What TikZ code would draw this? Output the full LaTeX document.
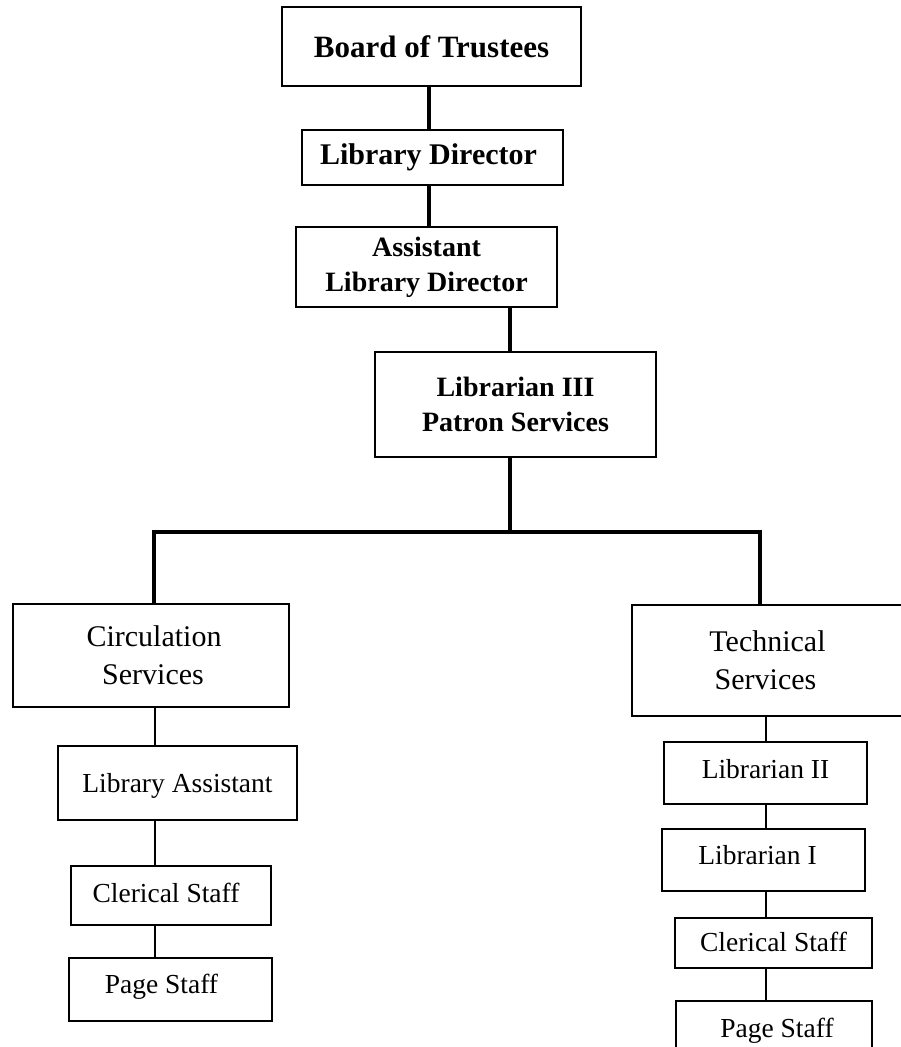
\documentclass[tikz,border=0pt]{standalone}
\usepackage{fontspec}
\setmainfont{Liberation Serif}
\begin{document}
\begin{tikzpicture}[x=1pt,y=-1pt,
  topbox/.style={draw=black,line width=2.5pt,inner sep=0pt,align=center,font=\bfseries},
  midbox/.style={draw=black,line width=2.5pt,inner sep=0pt,align=center},
  lowbox/.style={draw=black,line width=2pt,inner sep=0pt,text height=19pt,text depth=6pt,font=\fontsize{27.5}{33}\selectfont},
  thick/.style={line width=4.5pt},
  thin/.style={line width=1.5pt}]
\useasboundingbox (0,0) rectangle (901,1047);
% upper boxes
\node[topbox,minimum width=299pt,minimum height=79pt,font=\fontsize{31}{36}\selectfont\bfseries] (board) at (431.5,46.5) {Board of Trustees};
\node[topbox,minimum width=261pt,minimum height=55pt,font=\fontsize{30}{35}\selectfont\bfseries] (ld) at (432.5,157.5) {Library Director\hspace*{8pt}};
\node[topbox,minimum width=261pt,minimum height=80pt,font=\fontsize{28}{35}\selectfont\bfseries] (asst) at (426.5,267) {Assistant\\Library Director};
\node[topbox,minimum width=281pt,minimum height=105pt,font=\fontsize{28}{35}\selectfont\bfseries] (lib3) at (515.5,404.5) {Librarian III\\Patron Services};
% department boxes
\node[midbox,minimum width=276pt,minimum height=103pt,font=\fontsize{30}{38}\selectfont] (circ) at (151,655.5) {\hspace*{6pt}Circulation\\\hspace*{4pt}Services};
\node[midbox,minimum width=271pt,minimum height=111pt,font=\fontsize{30}{38}\selectfont] (tech) at (767.5,660.5) {Technical\\Services\hspace*{4pt}};
% left column
\node[lowbox,minimum width=239pt,minimum height=74pt] (la) at (177.5,783) {\raisebox{-2.5pt}{Library Assistant}};
\node[lowbox,minimum width=200pt,minimum height=59pt] (cl1) at (171,895.5) {Clerical Staff\hspace*{10pt}};
\node[lowbox,minimum width=203pt,minimum height=63pt] (ps1) at (170.5,989.5) {\raisebox{3pt}{Page Staff}\hspace*{18pt}};
% right column
\node[lowbox,minimum width=203pt,minimum height=62pt] (lib2) at (765.5,773) {\raisebox{1.5pt}{Librarian II}};
\node[lowbox,minimum width=203pt,minimum height=62pt] (lib1) at (763.5,860) {\raisebox{2.5pt}{Librarian I}\hspace*{12pt}};
\node[lowbox,minimum width=197pt,minimum height=50pt] (cl2) at (773.5,943) {\raisebox{-1.5pt}{Clerical Staff}};
\node[lowbox,minimum width=196pt,minimum height=49pt] (ps2) at (774,1025.5) {\hspace*{6pt}\raisebox{-5pt}{Page Staff}};
% reference x positions
\coordinate (xm) at (429,0);
\coordinate (xc) at (510,0);
\coordinate (xl) at (155,0);
\coordinate (xr) at (766,0);
\coordinate (busL) at (154,532);
\coordinate (busR) at (760,532);
\coordinate (bus) at (510,532);
% thick connectors
\draw[thick] (board.south -| xm) -- (ld.north -| xm);
\draw[thick] (ld.south -| xm) -- (asst.north -| xm);
\draw[thick] (asst.south -| xc) -- (lib3.north -| xc);
\draw[thick] (lib3.south -| xc) -- (bus);
\draw[thick,line join=miter] (circ.north -| busL) -- (busL) -- (busR) -- (tech.north -| busR);
% thin connectors
\draw[thin] (circ.south -| xl) -- (la.north -| xl);
\draw[thin] (la.south -| xl) -- (cl1.north -| xl);
\draw[thin] (cl1.south -| xl) -- (ps1.north -| xl);
\draw[thin] (tech.south -| xr) -- (lib2.north -| xr);
\draw[thin] (lib2.south -| xr) -- (lib1.north -| xr);
\draw[thin] (lib1.south -| xr) -- (cl2.north -| xr);
\draw[thin] (cl2.south -| xr) -- (ps2.north -| xr);
\end{tikzpicture}
\end{document}
